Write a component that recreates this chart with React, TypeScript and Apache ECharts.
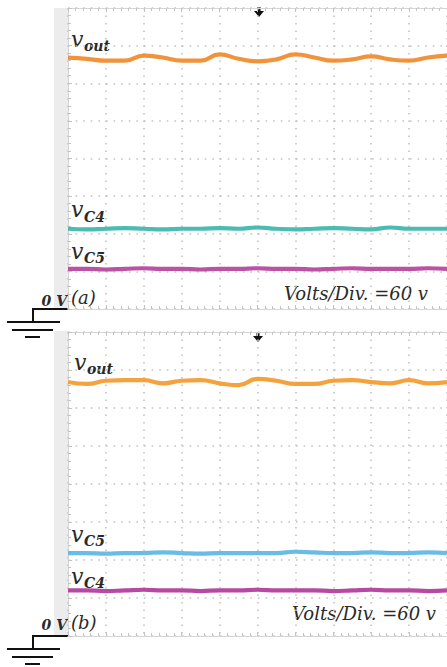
import React, { useEffect, useRef } from "react";
import * as echarts from "echarts";

// time axis in divisions (10 divisions across the screen)
const timeDiv = [0, 0.5, 1, 1.5, 2, 2.5, 3, 3.5, 4, 4.5, 5, 5.5, 6, 6.5, 7, 7.5, 8, 8.5, 9, 9.5, 10];

// Panel (a) voltages [V]
const voutA = [401, 399, 396, 396, 404, 401, 396, 396, 406, 399, 395, 398, 406, 401, 396, 398, 403, 398, 396, 401, 404];
const vC4A = [128, 127, 128, 129, 128, 127, 128, 128, 129, 128, 130, 128, 127, 128, 129, 128, 127, 130, 128, 128, 128];
const vC5A = [64, 64, 63, 64, 65, 64, 64, 63, 64, 64, 65, 64, 64, 63, 64, 65, 64, 64, 64, 65, 64];

// Panel (b) voltages [V]
const voutB = [401, 398, 403, 404, 404, 399, 403, 404, 399, 396, 406, 403, 398, 398, 403, 404, 401, 399, 404, 399, 401];
const vC5B = [131, 131, 130, 131, 131, 132, 131, 130, 131, 131, 131, 131, 133, 132, 131, 131, 132, 131, 131, 132, 131];
const vC4B = [72, 72, 71, 72, 73, 72, 72, 71, 72, 72, 73, 72, 72, 72, 71, 72, 73, 72, 72, 71, 72];

const voltTicks = [0, 60, 120, 180, 240, 300, 360, 420, 480];
const scaleText = "Volts/Div. =60 v";

const SERIF = '"DejaVu Serif", "Liberation Serif", serif';
const GRID_COLOR = "#c4c4c4";
const TXT = "#2a2a2a";

const pair = (vals: number[]) => vals.map((v, i) => [timeDiv[i], v]);

function xAxes(gridIndex: number) {
  const base = {
    type: "value",
    gridIndex,
    min: 0,
    max: 10,
    interval: 1,
    axisLabel: { show: false },
    axisLine: { show: true, lineStyle: { color: "#d6d6d6", width: 1 } },
    axisTick: { show: true, inside: true, length: 4, lineStyle: { color: GRID_COLOR } },
    minorTick: { show: true, splitNumber: 5, length: 3, lineStyle: { color: GRID_COLOR } },
  };
  return [
    {
      ...base,
      position: "bottom",
      splitLine: { show: true, lineStyle: { color: GRID_COLOR, width: 1.6, type: [1.6, 5.9] } },
    },
    { ...base, position: "top", splitLine: { show: false } },
  ];
}

function yAxis(gridIndex: number) {
  return {
    type: "value",
    gridIndex,
    min: voltTicks[0],
    max: voltTicks[voltTicks.length - 1],
    interval: 60,
    position: "left",
    axisLabel: { show: false },
    axisLine: { show: true, lineStyle: { color: "#d6d6d6", width: 1 } },
    axisTick: { show: true, inside: true, length: 4, lineStyle: { color: GRID_COLOR } },
    minorTick: { show: true, splitNumber: 5, length: 3, lineStyle: { color: GRID_COLOR } },
    splitLine: { show: true, lineStyle: { color: GRID_COLOR, width: 1.6, type: [1.6, 6.0] } },
  };
}

function trace(name: string, data: number[], color: string, axis: number) {
  return {
    type: "line",
    name,
    data: pair(data),
    xAxisIndex: axis * 2,
    yAxisIndex: axis,
    showSymbol: false,
    smooth: 0.5,
    lineStyle: { color, width: 4.2, opacity: 0.92 },
    z: 5,
  };
}

function label(main: string, sub: string, x: number, yMain: number, ySub: number) {
  return [
    {
      type: "text",
      x,
      y: yMain,
      style: { text: main, fontFamily: SERIF, fontStyle: "italic", fontSize: 22, fill: TXT, verticalAlign: "middle", align: "left" },
    },
    {
      type: "text",
      x: x + 13,
      y: ySub,
      style: { text: sub, fontFamily: SERIF, fontStyle: "italic", fontWeight: "bold", fontSize: 14, fill: TXT, verticalAlign: "middle", align: "left" },
    },
  ];
}

function ground(yStep: number) {
  const ls = { stroke: "#111", lineWidth: 2 };
  return [
    { type: "polyline", shape: { points: [[68, yStep], [33, yStep], [33, yStep + 13]] }, style: { ...ls, fill: null } },
    { type: "line", shape: { x1: 7, y1: yStep + 13, x2: 60, y2: yStep + 13 }, style: ls },
    { type: "line", shape: { x1: 12, y1: yStep + 21, x2: 53, y2: yStep + 21 }, style: ls },
    { type: "line", shape: { x1: 25, y1: yStep + 28, x2: 40, y2: yStep + 28 }, style: ls },
  ];
}

function arrow(x: number, y: number) {
  return [
    { type: "rect", shape: { x: x - 1.5, y, width: 3, height: 5 }, style: { fill: "#111" } },
    { type: "polygon", shape: { points: [[x - 5, y + 4], [x + 5, y + 4], [x, y + 10]] }, style: { fill: "#111" } },
  ];
}

function panelTexts(tag: string, yZero: number, yTag: number, yScale: number, xScale: number) {
  return [
    {
      type: "text",
      x: 67,
      y: yZero,
      style: { text: "0 V", fontFamily: SERIF, fontStyle: "italic", fontWeight: "bold", fontSize: 14, fill: TXT, verticalAlign: "middle", align: "right" },
    },
    {
      type: "text",
      x: 71,
      y: yTag,
      style: { text: tag, fontFamily: SERIF, fontStyle: "italic", fontSize: 18, fill: TXT, verticalAlign: "middle", align: "left" },
    },
    {
      type: "text",
      x: xScale,
      y: yScale,
      style: { text: scaleText, fontFamily: SERIF, fontStyle: "italic", fontSize: 18, fill: TXT, verticalAlign: "middle", align: "left" },
    },
  ];
}

export default function App() {
  const ref = useRef<HTMLDivElement>(null);
  useEffect(() => {
    if (!ref.current) return;
    const chart = echarts.init(ref.current, undefined, { renderer: "svg" });
    chart.setOption({
      animation: false,
      backgroundColor: "#ffffff",
      grid: [
        { left: 68, top: 8, width: 382, height: 301, show: false },
        { left: 68, top: 332, width: 382, height: 304, show: false },
      ],
      xAxis: [...xAxes(0), ...xAxes(1)],
      yAxis: [yAxis(0), yAxis(1)],
      series: [
        trace("vout (a)", voutA, "#f08a2a", 0),
        trace("vC4 (a)", vC4A, "#3db6ad", 0),
        trace("vC5 (a)", vC5A, "#b5449c", 0),
        trace("vout (b)", voutB, "#f39a2c", 1),
        trace("vC5 (b)", vC5B, "#5cb6e3", 1),
        trace("vC4 (b)", vC4B, "#b0399a", 1),
      ],
      graphic: [
        { type: "rect", shape: { x: 54, y: 8, width: 14, height: 301 }, style: { fill: "#ececec" }, z: -1 },
        { type: "rect", shape: { x: 54, y: 331, width: 14, height: 305 }, style: { fill: "#ececec" }, z: -1 },
        ...arrow(259, 7),
        ...arrow(258, 332),
        ...label("v", "out", 71, 39, 46),
        ...label("v", "C4", 71, 209, 217),
        ...label("v", "C5", 71, 251, 258),
        ...label("v", "out", 74, 362, 369),
        ...label("v", "C5", 71, 534, 541),
        ...label("v", "C4", 71, 576, 583),
        ...ground(309),
        ...ground(636),
        ...panelTexts("(a)", 301, 297, 293, 284),
        ...panelTexts("(b)", 625, 622, 613, 292),
      ],
    });
    return () => chart.dispose();
  }, []);
  return <div ref={ref} style={{ position: "absolute", left: 0, top: 0, width: 447, height: 667 }} />;
}
